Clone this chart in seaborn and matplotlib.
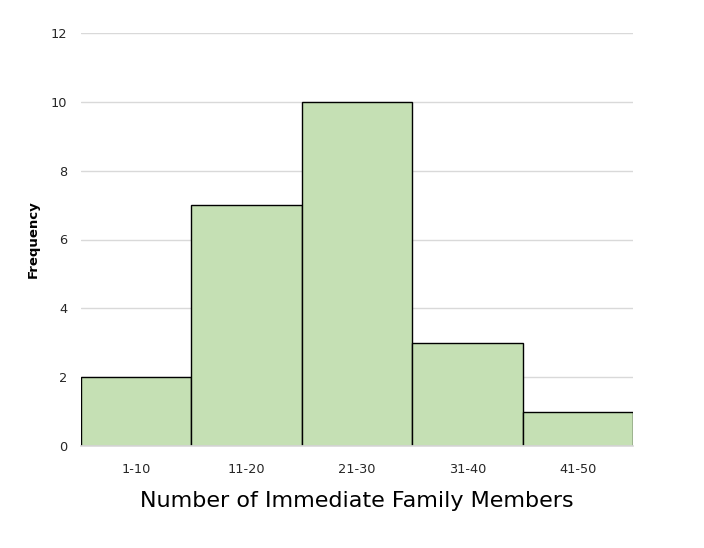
import matplotlib
matplotlib.use("Agg")
import matplotlib.pyplot as plt
import seaborn as sns
import pandas as pd

categories = ["1-10", "11-20", "21-30", "31-40", "41-50"]
frequency = [2, 7, 10, 3, 1]
yticks = [0, 2, 4, 6, 8, 10, 12]

sns.set_theme(style="white")
plt.rcParams['font.family'] = ['DejaVu Sans']

df = pd.DataFrame({"cat": categories, "freq": frequency})

fig = plt.figure(figsize=(7.04, 5.48), dpi=100)
ax = fig.add_axes([81/704, 1 - 446/548, (633-81)/704, (446-33)/548])
ax.set_axisbelow(True)
for y in yticks[1:]:
    ax.axhline(y, color="#d9d9d9", lw=1, zorder=0)
sns.barplot(data=df, x="cat", y="freq", color="#C5E0B4", saturation=1,
            width=1.0, edgecolor="black", linewidth=1.0, ax=ax, zorder=2)
ax.set_xlim(-0.5, 4.5)
ax.set_ylim(0, 12)
ax.set_yticks(yticks)
ax.set_yticklabels([str(v) for v in yticks], fontsize=9.3, color="#262626")
ax.tick_params(axis="x", labelsize=9.3, colors="#262626", pad=12, length=0)
ax.tick_params(axis="y", length=0, pad=10)
for s in ["top", "right", "left"]:
    ax.spines[s].set_visible(False)
ax.spines["bottom"].set_color("#d9d9d9")
ax.spines["bottom"].set_zorder(3)
ax.set_xlabel("Number of Immediate Family Members", fontsize=16, color="black", labelpad=11)
ax.set_ylabel("Frequency", fontsize=9.5, fontweight="bold", color="black", labelpad=8)
fig.savefig("out.png", dpi=100, facecolor="white")
